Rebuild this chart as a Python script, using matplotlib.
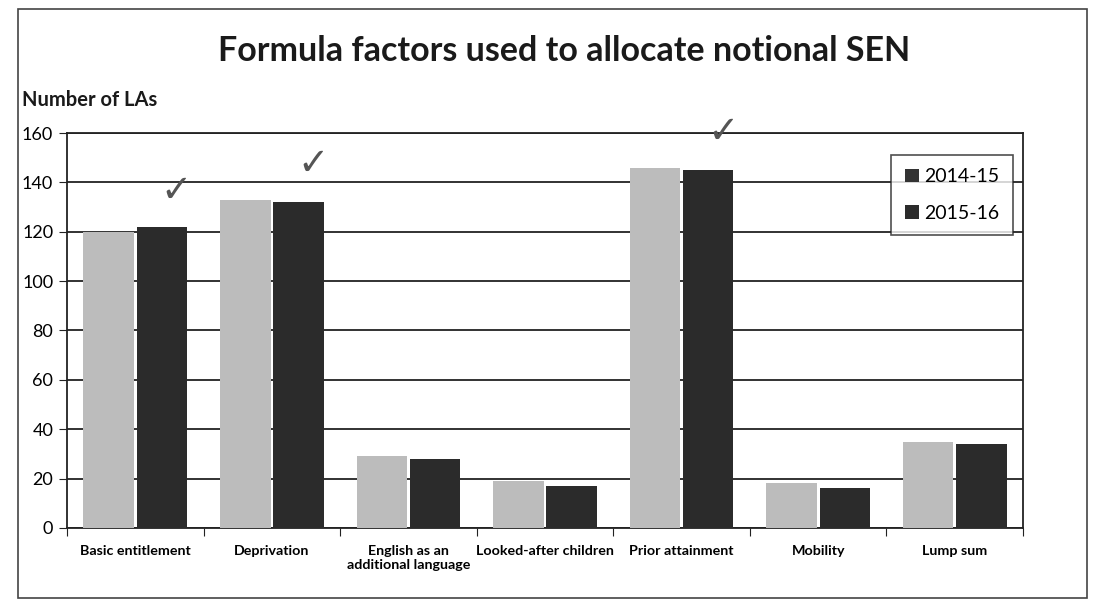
import matplotlib
matplotlib.use("Agg")
import matplotlib.pyplot as plt
import numpy as np
from matplotlib.patches import Rectangle, Patch

plt.rcParams['font.family'] = ['Lato', 'DejaVu Sans']

categories = ["Basic entitlement", "Deprivation", "English as an\nadditional language",
              "Looked-after children", "Prior attainment", "Mobility", "Lump sum"]
series_names = ["2014-15", "2015-16"]
values_2014 = [120, 133, 29, 19, 146, 18, 35]
values_2015 = [122, 132, 28, 17, 145, 16, 34]
checked = [0, 1, 4]
y_ticks = [0, 20, 40, 60, 80, 100, 120, 140, 160]

fig = plt.figure(figsize=(11, 6.16), dpi=100)
ax = fig.add_axes([0.061, 0.143, 0.869, 0.641])

x = np.arange(len(categories))
w = 0.37
light = "#bcbcbc"
dark = "#2b2b2b"
ax.bar(x - w / 2 - 0.01, values_2014, w, color=light, zorder=3)
ax.bar(x + w / 2 + 0.01, values_2015, w, color=dark, zorder=3)

ax.set_xlim(-0.5, len(categories) - 0.5)
ax.set_ylim(0, 160)
ax.set_yticks(y_ticks)
ax.set_yticklabels([str(t) for t in y_ticks], fontsize=13)
ax.yaxis.grid(True, color="#222222", linewidth=1.3, zorder=0)
ax.set_axisbelow(True)
for s in ax.spines.values():
    s.set_color("#222222")
    s.set_linewidth(1.3)

ax.set_xticks(np.arange(len(categories) + 1) - 0.5)
ax.set_xticklabels([])
ax.set_xticks(x, minor=True)
ax.set_xticklabels(categories, minor=True, fontsize=10.3, fontweight="bold")
ax.tick_params(axis="x", which="minor", length=0, pad=12)
ax.tick_params(axis="x", which="major", length=6, direction="out", color="#222222")
ax.tick_params(axis="y", length=6, direction="out", color="#222222", pad=4)

for i in checked:
    top = max(values_2014[i], values_2015[i])
    ax.annotate("\u2713", (x[i] + 0.3, top), xytext=(0, 12), textcoords="offset points",
                ha="center", va="bottom", fontsize=27, color="#555555",
                family=["DejaVu Sans"])

handles = [Patch(facecolor="#333333", edgecolor="none"),
           Patch(facecolor=dark, edgecolor="none")]
leg = ax.legend(handles, series_names, loc="upper right", bbox_to_anchor=(1.0, 0.97),
                fontsize=14, frameon=True, fancybox=False, handlelength=0.7,
                handleheight=0.7, handletextpad=0.3, labelspacing=1.0, borderpad=0.7)
leg.get_frame().set_edgecolor("#222222")
leg.get_frame().set_linewidth(1.2)

fig.text(0.513, 0.918, "Formula factors used to allocate notional SEN", ha="center",
         va="center", fontsize=24.5, fontweight="bold", color="#1a1a1a")
fig.text(0.02, 0.838, "Number of LAs", ha="left", va="center", fontsize=14.5,
         fontweight="bold", color="#1a1a1a")

fig.patches.append(Rectangle((0.016, 0.03), 0.972, 0.955, transform=fig.transFigure,
                             fill=False, edgecolor="#444444", linewidth=1.2))

fig.savefig("out.png", dpi=100)
